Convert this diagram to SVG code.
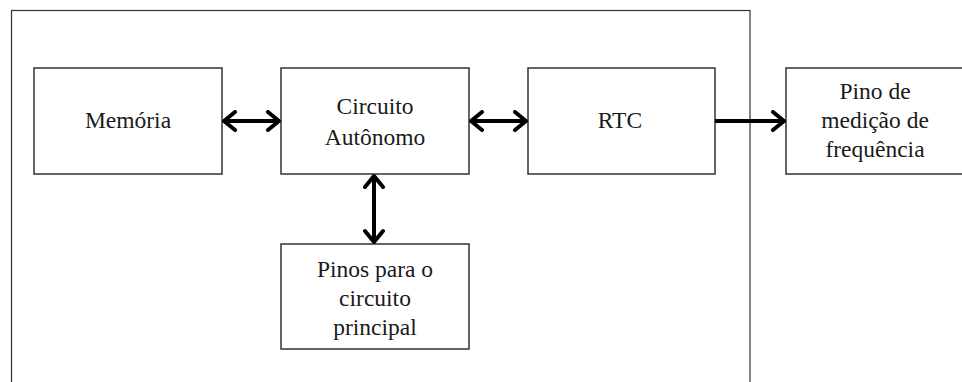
<svg xmlns="http://www.w3.org/2000/svg" width="962" height="382" viewBox="0 0 962 382">
<style>
.box{fill:#fff;stroke:#333;stroke-width:1.5}
.lbl{font-family:"Liberation Serif","Times New Roman",serif;font-size:23.5px;fill:#1a1a1a;text-anchor:middle}
.con{stroke:#000;stroke-width:4;fill:none}
</style>
<defs>
<marker id="chev" viewBox="0 0 18 22" refX="15" refY="11" markerWidth="18" markerHeight="22" markerUnits="userSpaceOnUse" orient="auto-start-reverse">
<path d="M3,2 L14,11 L3,20" fill="none" stroke="#000" stroke-width="4" stroke-linecap="round" stroke-linejoin="round"/>
</marker>
</defs>
<rect width="962" height="382" fill="#fff"/>
<rect id="outer" x="11.5" y="10.5" width="738.5" height="400" fill="none" stroke="#333" stroke-width="1.2"/>
<g id="memoria"><rect class="box" x="34" y="68" width="188" height="106"/><text class="lbl" x="128" y="128">Memória</text></g>
<g id="circuito"><rect class="box" x="281" y="68" width="188" height="106"/><text class="lbl" x="375" y="114">Circuito</text><text class="lbl" x="375" y="145">Autônomo</text></g>
<g id="rtc"><rect class="box" x="528" y="68" width="187" height="106"/><text class="lbl" x="620" y="128">RTC</text></g>
<g id="pino"><rect class="box" x="786" y="68" width="200" height="106"/><text class="lbl" x="875" y="99">Pino de</text><text class="lbl" x="875" y="128">medição de</text><text class="lbl" x="875" y="157">frequência</text></g>
<g id="pinos"><rect class="box" x="281" y="244" width="188" height="105"/><text class="lbl" x="375" y="277">Pinos para o</text><text class="lbl" x="375" y="306">circuito</text><text class="lbl" x="375" y="335">principal</text></g>
<g id="connectors">
<line class="con" x1="223" y1="121" x2="280" y2="121" marker-start="url(#chev)" marker-end="url(#chev)"/>
<line class="con" x1="470" y1="121" x2="527" y2="121" marker-start="url(#chev)" marker-end="url(#chev)"/>
<line class="con" x1="374" y1="175" x2="374" y2="243" marker-start="url(#chev)" marker-end="url(#chev)"/>
<line class="con" x1="715" y1="121" x2="785" y2="121" marker-end="url(#chev)"/>
</g>
</svg>
